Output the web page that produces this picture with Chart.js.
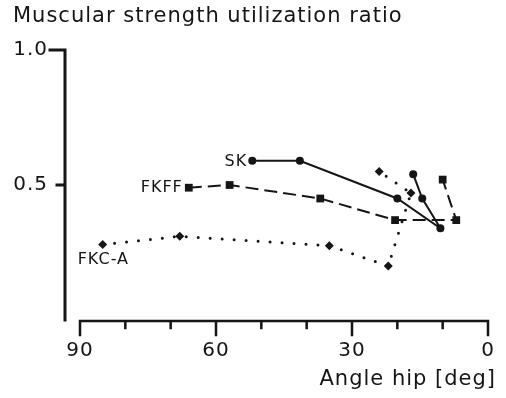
<!DOCTYPE html>
<html>
<head>
<meta charset="utf-8">
<script src="https://cdn.jsdelivr.net/npm/chart.js@4"></script>
<style>
  html, body { margin: 0; padding: 0; background: #fff; }
  #wrap { width: 506px; height: 398px; }
</style>
</head>
<body>
<div id="wrap"><canvas id="chart"></canvas></div>
<script>
// values (angle in deg, ratio 0..1)
const skAngle = [52, 41.5, 20, 10.5, 14.5, 16.5];
const skRatio = [0.59, 0.59, 0.45, 0.34, 0.45, 0.54];

const fkffAngle = [66, 57, 37, 20.5, 7, 10];
const fkffRatio = [0.49, 0.50, 0.45, 0.37, 0.37, 0.52];

const fkcaAngle = [85, 68, 35, 22, 17, 24];
const fkcaRatio = [0.28, 0.31, 0.275, 0.20, 0.47, 0.55];

const seriesNames = ['SK', 'FKFF', 'FKC-A'];
const xTickLabels = [90, 60, 30, 0];
const xMinorTicks = [80, 70, 50, 40, 20, 10];
const yTickLabels = [0.5, 1.0];
const xTitle = 'Angle hip [deg]';

const ink = '#151515';
Chart.defaults.font.family = '"DejaVu Sans", sans-serif';
Chart.defaults.color = ink;

function pts(xs, ys) {
    return xs.map((x, i) => ({ x: x, y: ys[i] }));
}

// spacing the way the old print looks
const spacing = {
    id: 'spacing',
    beforeLayout(chart) { chart.ctx.letterSpacing = '1px'; },
    beforeDraw(chart) { chart.ctx.letterSpacing = '1px'; }
};

// detached axis lines, tick marks, x title
const axesLines = {
    id: 'axesLines',
    afterDraw(chart) {
        const ctx = chart.ctx;
        const xs = chart.scales.x, ys = chart.scales.y;
        const y0 = ys.getPixelForValue(0), y1 = ys.getPixelForValue(1);
        const yx = 65;
        ctx.save();
        ctx.strokeStyle = ink;
        ctx.lineCap = 'square';
        // y axis
        ctx.lineWidth = 3;
        ctx.beginPath();
        ctx.moveTo(yx, y1);
        ctx.lineTo(yx, y0);
        ctx.moveTo(yx - 15, y1);
        ctx.lineTo(yx, y1);
        const yMid = ys.getPixelForValue(0.5);
        ctx.moveTo(yx - 8, yMid);
        ctx.lineTo(yx, yMid);
        ctx.stroke();
        // x axis
        const ax = y0 + 1;
        ctx.lineWidth = 2.5;
        ctx.beginPath();
        ctx.moveTo(xs.getPixelForValue(90), ax);
        ctx.lineTo(xs.getPixelForValue(0), ax);
        xTickLabels.forEach(v => {
            const px = xs.getPixelForValue(v);
            ctx.moveTo(px, ax);
            ctx.lineTo(px, ax + 14);
        });
        xMinorTicks.forEach(v => {
            const px = xs.getPixelForValue(v);
            ctx.moveTo(px, ax);
            ctx.lineTo(px, ax + 7);
        });
        ctx.stroke();
        // x title, right-aligned under the 0 end
        ctx.fillStyle = ink;
        ctx.font = '21px "DejaVu Sans", sans-serif';
        ctx.textAlign = 'right';
        ctx.textBaseline = 'middle';
        ctx.fillText(xTitle, xs.getPixelForValue(0) + 8, ax + 59);
        ctx.restore();
    }
};

// series names next to the first point
const seriesLabels = {
    id: 'seriesLabels',
    afterDatasetsDraw(chart) {
        const ctx = chart.ctx;
        ctx.save();
        ctx.fillStyle = ink;
        ctx.font = '16px "DejaVu Sans", sans-serif';
        ctx.textBaseline = 'middle';
        const p0 = chart.getDatasetMeta(0).data[0];
        const p1 = chart.getDatasetMeta(1).data[0];
        const p2 = chart.getDatasetMeta(2).data[0];
        ctx.textAlign = 'right';
        ctx.fillText(seriesNames[0], p0.x - 5, p0.y + 1);
        ctx.fillText(seriesNames[1], p1.x - 6, p1.y);
        ctx.textAlign = 'left';
        ctx.fillText(seriesNames[2], p2.x - 25, p2.y + 15);
        ctx.restore();
    }
};

new Chart(document.getElementById('chart'), {
    type: 'scatter',
    data: {
        datasets: [
            {
                label: seriesNames[0],
                data: pts(skAngle, skRatio),
                showLine: true,
                borderColor: ink,
                backgroundColor: ink,
                borderWidth: 2,
                pointStyle: 'circle',
                pointRadius: 4,
                pointBorderWidth: 0
            },
            {
                label: seriesNames[1],
                data: pts(fkffAngle, fkffRatio),
                showLine: true,
                borderColor: ink,
                backgroundColor: ink,
                borderWidth: 2,
                borderDash: [13, 6],
                pointStyle: 'rect',
                pointRadius: 5.5,
                pointBorderWidth: 0
            },
            {
                label: seriesNames[2],
                data: pts(fkcaAngle, fkcaRatio),
                showLine: true,
                borderColor: ink,
                backgroundColor: ink,
                borderWidth: 3,
                borderDash: [0, 12],
                borderCapStyle: 'round',
                pointStyle: 'rectRot',
                pointRadius: 4.5,
                pointBorderWidth: 0
            }
        ]
    },
    options: {
        responsive: true,
        maintainAspectRatio: false,
        animation: false,
        layout: { padding: { top: 0, left: 13, right: 18, bottom: 0 } },
        plugins: {
            legend: { display: false },
            tooltip: { enabled: false },
            title: {
                display: true,
                text: 'Muscular strength utilization ratio',
                align: 'start',
                color: ink,
                font: { size: 21, weight: 'normal' },
                padding: { top: 4, bottom: 20.8 }
            }
        },
        scales: {
            x: {
                type: 'linear',
                min: 0,
                max: 90,
                reverse: true,
                grid: { display: false, drawTicks: false },
                border: { display: false },
                ticks: {
                    stepSize: 10,
                    autoSkip: false,
                    maxRotation: 0,
                    padding: 18.5,
                    font: { size: 20 },
                    color: ink,
                    callback: v => xTickLabels.includes(v) ? String(v) : ''
                },
                afterFit(s) {
                    s.height = 78;
                    s.paddingLeft = 0;
                    s.paddingRight = 0;
                }
            },
            y: {
                type: 'linear',
                min: 0,
                max: 1,
                grid: { display: false, drawTicks: false },
                border: { display: false },
                ticks: {
                    stepSize: 0.5,
                    padding: 32,
                    font: { size: 20 },
                    color: ink,
                    callback: v => yTickLabels.includes(v) ? v.toFixed(1) : ''
                },
                afterFit(s) {
                    s.width = 67;
                    s.paddingTop = 0;
                    s.paddingBottom = 0;
                }
            }
        }
    },
    plugins: [spacing, axesLines, seriesLabels]
});
</script>
</body>
</html>
